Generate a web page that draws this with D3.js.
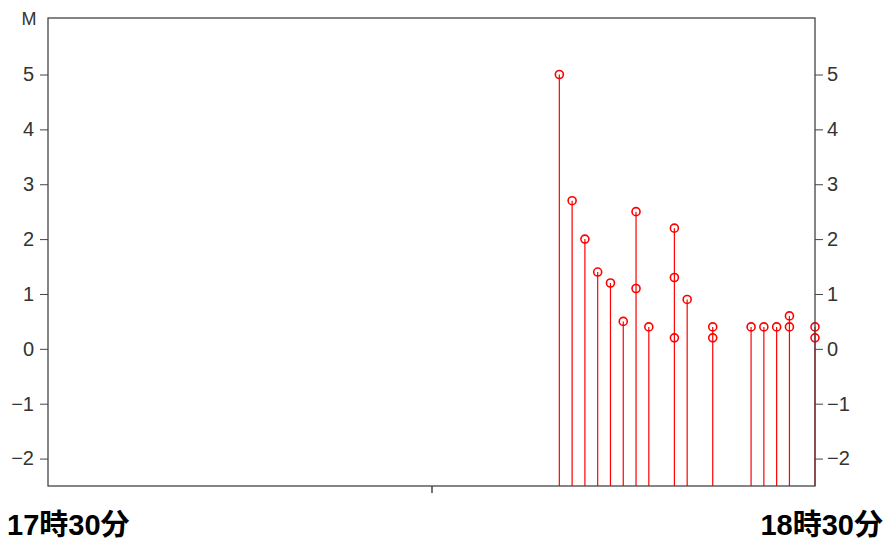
<!DOCTYPE html>
<html>
<head>
<meta charset="utf-8">
<script src="https://cdn.jsdelivr.net/npm/d3@7"></script>
<style>
  body { margin: 0; background: #fff; }
  .tick text { font-family: "Liberation Sans", Arial, sans-serif; font-size: 20px; fill: #333; }
  .tick line { stroke: #444; }
</style>
</head>
<body>
<svg id="chart" width="889" height="541"></svg>
<script>
// minutes after 17:30, and the measured value at that minute
const minutes = [40, 41, 42, 43, 44, 45, 46, 46, 47, 49, 49, 49, 50, 52, 52, 55, 56, 57, 58, 58, 60, 60];
const values  = [5.0, 2.7, 2.0, 1.4, 1.2, 0.5, 2.5, 1.1, 0.4, 2.2, 1.3, 0.2, 0.9, 0.4, 0.2, 0.4, 0.4, 0.4, 0.6, 0.4, 0.4, 0.2];
const yTicks = [-2, -1, 0, 1, 2, 3, 4, 5];
const startLabel = "17時30分";
const endLabel = "18時30分";
const unitLabel = "M";

const svg = d3.select("#chart");
const plotL = 48, plotR = 815, plotT = 18, plotB = 486;

const t0 = new Date(2020, 0, 1, 17, 30);
const t1 = new Date(2020, 0, 1, 18, 30);
const x = d3.scaleTime().domain([t0, t1]).range([plotL, plotR]);
const y = d3.scaleLinear().domain([-2.5, 6.03]).range([plotB, plotT]);

const pts = minutes.map((m, i) => ({ t: d3.timeMinute.offset(t0, m), v: values[i] }));
// stems go from the bottom up to the highest point at each time
const stems = d3.rollups(pts, g => d3.max(g, d => d.v), d => +d.t);

svg.append("g")
  .selectAll("line")
  .data(stems)
  .enter()
  .append("line")
  .attr("x1", d => x(d[0])).attr("x2", d => x(d[0]))
  .attr("y1", plotB).attr("y2", d => y(d[1]))
  .attr("stroke", "#ff0000")
  .attr("stroke-width", 1.2);

svg.append("g")
  .selectAll("circle")
  .data(pts)
  .enter()
  .append("circle")
  .attr("cx", d => x(d.t))
  .attr("cy", d => y(d.v))
  .attr("r", 4)
  .attr("fill", "none")
  .attr("stroke", "#ff0000")
  .attr("stroke-width", 1.6);

// axes
let leftAxis = svg.append("g").attr("transform", `translate(${plotL},0)`)
  .call(d3.axisLeft(y).tickValues(yTicks).tickSize(8).tickPadding(6).tickFormat(d3.format("d")));
leftAxis.select(".domain").remove();

let rightAxis = svg.append("g").attr("transform", `translate(${plotR},0)`)
  .call(d3.axisRight(y).tickValues(yTicks).tickSize(8).tickPadding(4).tickFormat(d3.format("d")));
rightAxis.select(".domain").remove();

let bottomAxis = svg.append("g").attr("transform", `translate(0,${plotB})`)
  .call(d3.axisBottom(x).tickValues([d3.timeMinute.offset(t0, 30)]).tickSize(7).tickFormat(""));
bottomAxis.select(".domain").remove();
bottomAxis.selectAll(".tick line").attr("stroke-width", 1.5);

svg.append("rect")
  .attr("x", plotL).attr("y", plotT)
  .attr("width", plotR - plotL).attr("height", plotB - plotT)
  .attr("fill", "none")
  .attr("stroke", "#444")
  .attr("stroke-width", 1.3);

svg.append("text")
  .attr("x", 29).attr("y", 25)
  .attr("text-anchor", "middle")
  .style("font-family", "Liberation Sans, Arial, sans-serif").style("font-size", "18px").style("fill", "#333")
  .text(unitLabel);

svg.append("text")
  .attr("x", 7).attr("y", 535)
  .style("font-family", "Liberation Sans, Noto Sans CJK JP, sans-serif").style("font-size", "29px").style("font-weight", "bold")
  .text(startLabel);

svg.append("text")
  .attr("x", 883).attr("y", 535)
  .attr("text-anchor", "end")
  .style("font-family", "Liberation Sans, Noto Sans CJK JP, sans-serif").style("font-size", "29px").style("font-weight", "bold")
  .text(endLabel);
</script>
</body>
</html>
